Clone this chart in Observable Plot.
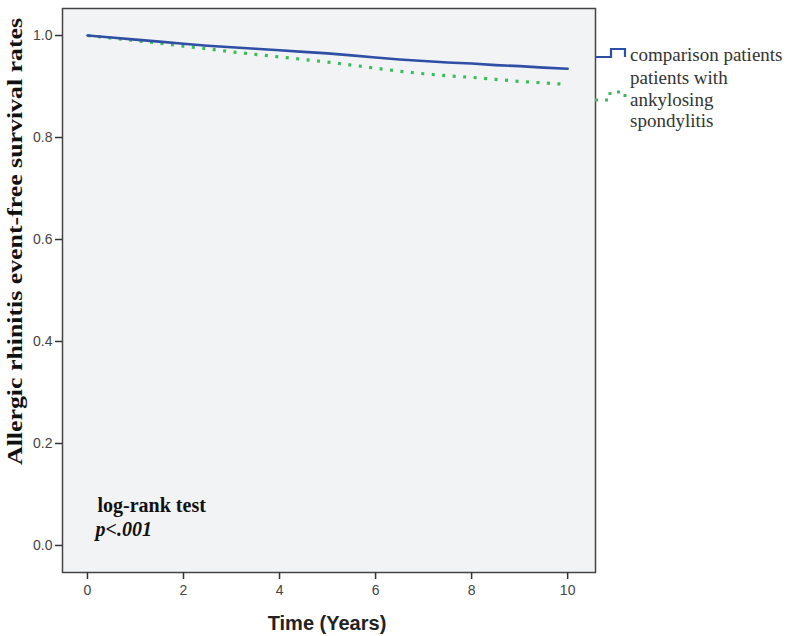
<!DOCTYPE html>
<html>
<head>
<meta charset="utf-8">
<script src="https://cdn.jsdelivr.net/npm/d3@7"></script>
<script src="https://cdn.jsdelivr.net/npm/@observablehq/plot@0.6"></script>
<style>
  html, body { margin: 0; padding: 0; background: #fff; }
</style>
</head>
<body>
<div id="chart"></div>
<script>
// Time in years
const compTime = [0, 0.5, 1, 1.5, 2, 2.5, 3, 3.5, 4, 4.5, 5, 5.5, 6, 6.5, 7, 7.5, 8, 8.5, 9, 9.5, 10];
const compSurv = [1.0, 0.996, 0.992, 0.988, 0.984, 0.980, 0.977, 0.974, 0.971, 0.968, 0.965, 0.961, 0.957, 0.953, 0.950, 0.947, 0.945, 0.942, 0.940, 0.937, 0.935];
const asTime = [0, 0.5, 1, 1.5, 2, 2.5, 3, 3.5, 4, 4.5, 5, 5.5, 6, 6.5, 7, 7.5, 8, 8.5, 9, 9.5, 9.85];
const asSurv = [1.0, 0.995, 0.990, 0.985, 0.979, 0.974, 0.968, 0.963, 0.958, 0.953, 0.948, 0.942, 0.936, 0.930, 0.925, 0.921, 0.918, 0.914, 0.910, 0.907, 0.905];
const xTicks = [0, 2, 4, 6, 8, 10];
const yTicks = [0.0, 0.2, 0.4, 0.6, 0.8, 1.0];
const seriesNames = ["comparison patients", "patients with ankylosing spondylitis"];

const comp = compTime.map((t, i) => ({t, s: compSurv[i]}));
const as = asTime.map((t, i) => ({t, s: asSurv[i]}));

const blue = "#2f4fa5";
const green = "#3dbb5a";
const serif = "'Liberation Serif', 'Times New Roman', serif";
const sans = "'Liberation Sans', Arial, sans-serif";

const plot = Plot.plot({
  width: 800,
  height: 636,
  marginLeft: 62,
  marginRight: 205,
  marginTop: 8,
  marginBottom: 64,
  style: {background: "#fff", overflow: "visible"},
  x: {domain: [-0.52, 10.58]},
  y: {domain: [-0.053, 1.053]},
  marks: [
    Plot.frame({fill: "#f2f3f5", stroke: null}),
    Plot.line(as, {x: "t", y: "s", stroke: green, strokeWidth: 3.2, strokeDasharray: "3,7.5", strokeLinecap: "butt", curve: "linear"}),
    Plot.line(comp, {x: "t", y: "s", stroke: blue, strokeWidth: 2.6, curve: "linear"}),
    Plot.frame({stroke: "#444", strokeWidth: 1.5}),
    Plot.axisX({ticks: xTicks, tickFormat: d => d3.format("d")(d), tickSize: 7, tickPadding: 6,
      stroke: "#333", strokeWidth: 1.5, fill: "#444", fontSize: 14, fontFamily: sans, label: null}),
    Plot.axisY({ticks: yTicks, tickFormat: d => d3.format(".1f")(d), tickSize: 7, tickPadding: 3,
      stroke: "#333", strokeWidth: 1.5, fill: "#444", fontSize: 14, fontFamily: sans, label: null}),
    Plot.text(["log-rank test"], {frameAnchor: "bottom-left", dx: 35, dy: -61, text: d => d, textAnchor: "start",
      fontFamily: serif, fontWeight: "bold", fontSize: 20, fill: "#111"}),
    Plot.text(["p<.001"], {frameAnchor: "bottom-left", dx: 33, dy: -37, text: d => d, textAnchor: "start",
      fontFamily: serif, fontWeight: "bold", fontStyle: "italic", fontSize: 20, fill: "#111"})
  ]
});

const svg = d3.select(plot);
// Axis titles
svg.append("text")
  .attr("transform", "translate(22,241.5) rotate(-90)")
  .attr("text-anchor", "middle")
  .style("font-family", serif)
  .attr("font-weight", "bold")
  .attr("font-size", 21)
  .attr("textLength", 447)
  .attr("lengthAdjust", "spacingAndGlyphs")
  .attr("fill", "#111")
  .text("Allergic rhinitis event-free survival rates");
svg.append("text")
  .attr("x", 327).attr("y", 630)
  .attr("text-anchor", "middle")
  .style("font-family", sans)
  .attr("font-weight", "bold")
  .attr("font-size", 20)
  .attr("fill", "#222")
  .text("Time (Years)");

// Legend
const lg = svg.append("g").style("font-family", serif).attr("font-size", 19).attr("fill", "#333").attr("text-anchor", "start");
lg.append("path").attr("d", "M595,57H611V49H625V57").attr("fill", "none").attr("stroke", blue).attr("stroke-width", 2.2);
lg.append("text").attr("x", 630).attr("y", 61).style("font-family", serif).text(seriesNames[0]);
lg.append("path").attr("d", "M595,100H610V92H625V100").attr("fill", "none").attr("stroke", green).attr("stroke-width", 3).attr("stroke-dasharray", "3,7");
const words = ["patients with", "ankylosing", "spondylitis"];
words.forEach((w, i) => lg.append("text").attr("x", 630).attr("y", 84 + i * 21.5).style("font-family", serif).text(w));

document.getElementById("chart").appendChild(plot);
</script>
</body>
</html>
